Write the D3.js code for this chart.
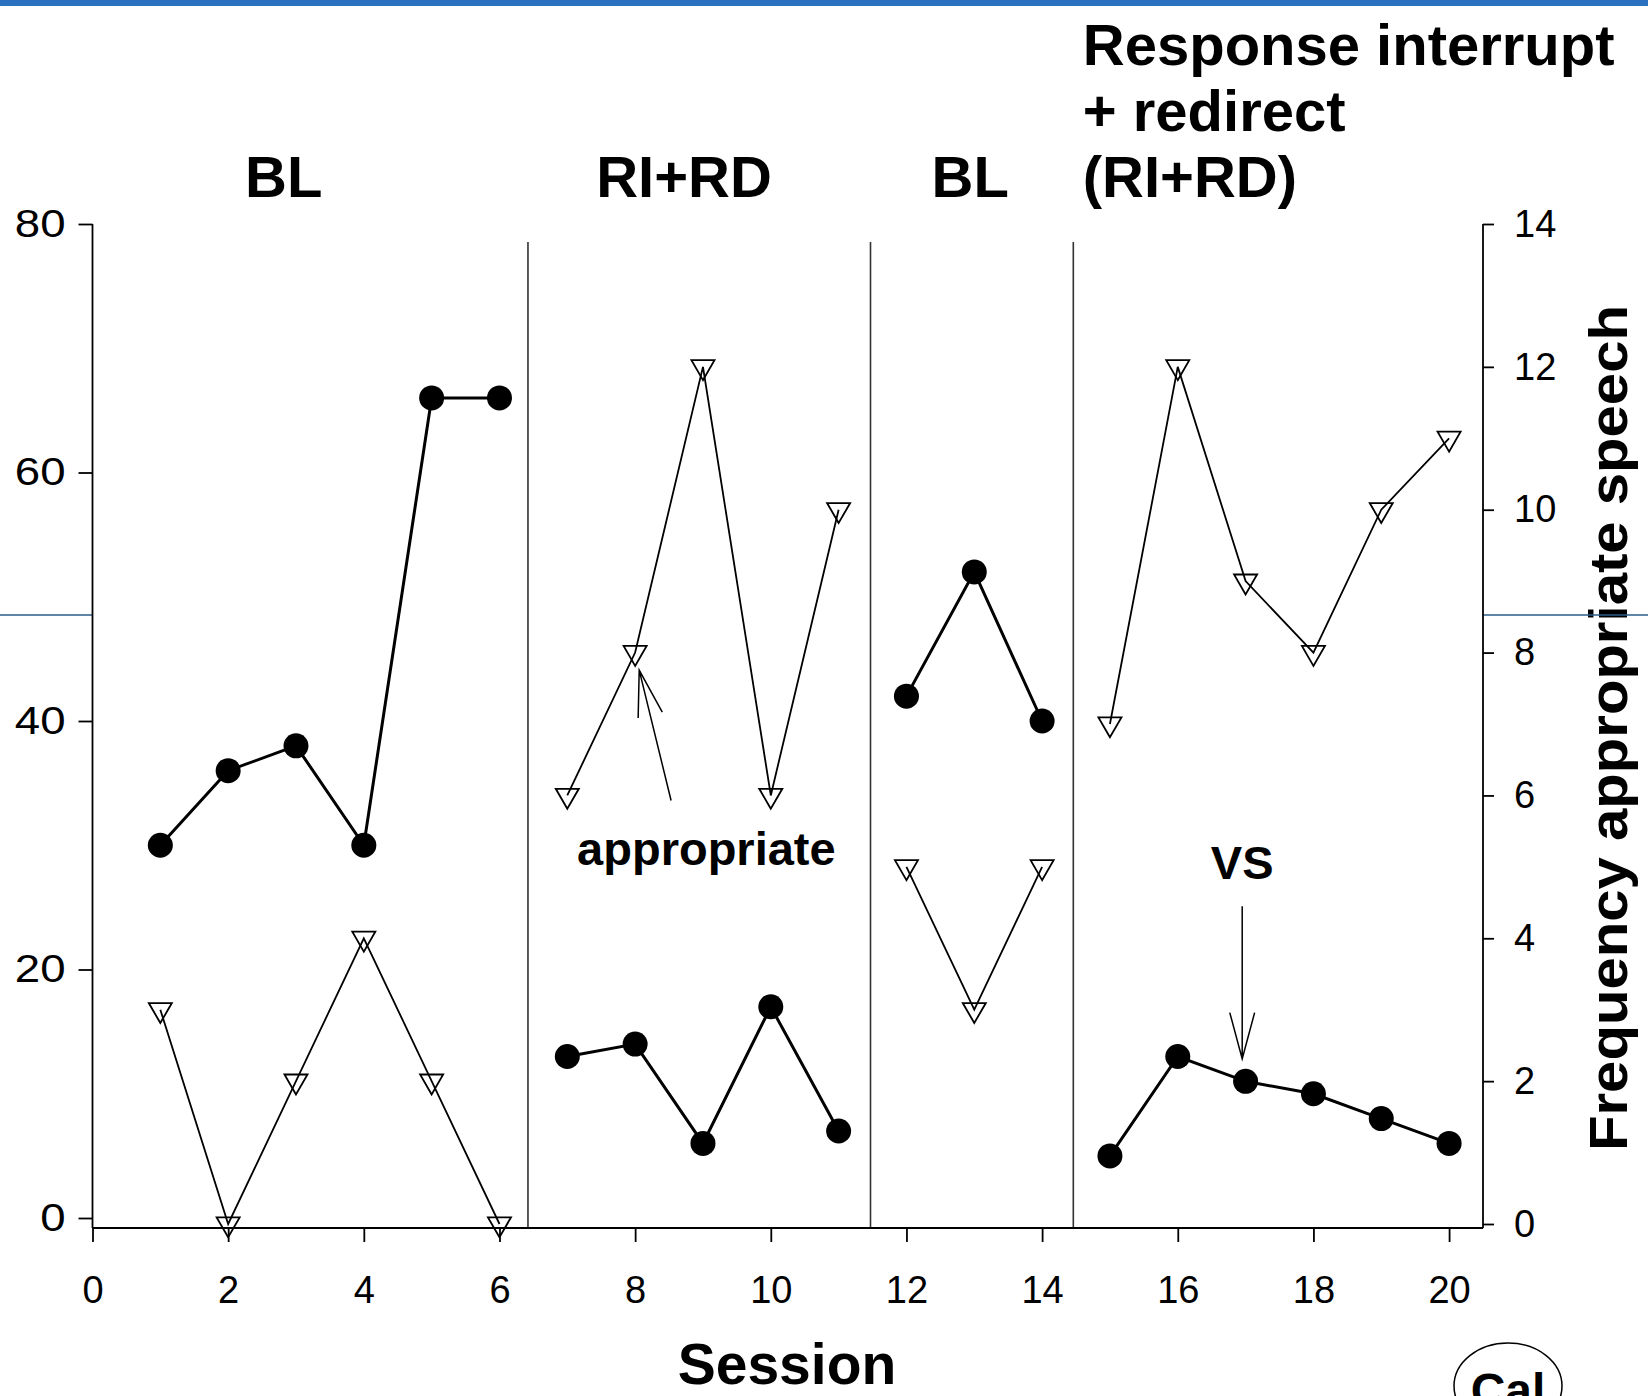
<!DOCTYPE html>
<html>
<head>
<meta charset="utf-8">
<script src="https://cdn.jsdelivr.net/npm/d3@7"></script>
<style>
  body { margin: 0; background: #fff; }
  svg { display: block; font-family: "Liberation Sans", Arial, sans-serif; }
</style>
</head>
<body>
<script>
// session numbers and the two measures
var sessions = d3.range(1, 21);
var percentValues = [30, 36, 38, 30, 66, 66, 13, 14, 6, 17, 7, 42, 52, 40, 5, 13, 11, 10, 8, 6];
var freqValues = [3, 0, 2, 4, 2, 0, 6, 8, 12, 6, 10, 5, 3, 5, 7, 12, 9, 8, 10, 11];

// phases: first and last session of each
var phaseStart = [1, 7, 12, 15];
var phaseEnd = [6, 11, 14, 20];
var phaseLines = [6.42, 11.47, 14.46];
var phaseNames = ["BL", "RI+RD", "BL"];
var phaseNameX = [2.82, 8.72, 12.94];
var lastPhaseLines = ["Response interrupt", "+ redirect", "(RI+RD)"];

var xTicks = d3.range(0, 21, 2);
var leftTicks = [0, 20, 40, 60, 80];
var rightTicks = d3.range(0, 15, 2);

var width = 1648;
var height = 1396;

var svg = d3.select("body")
	.append("svg")
	.attr("width", width)
	.attr("height", height);

var x = d3.scaleLinear().domain([0, 20.5]).range([92.5, 1483]);
var yLeft = d3.scaleLinear().domain([0, 80]).range([1218, 224]);
var yRight = d3.scaleLinear().domain([0, 14]).range([1224, 224]);
var axisY = 1228;

// top bar of the slide
svg.append("rect")
	.attr("x", 0).attr("y", 0)
	.attr("width", width).attr("height", 6)
	.attr("fill", "#2a72c0");

// phase titles
svg.selectAll("text.phase")
	.data(phaseNames)
	.enter()
	.append("text")
	.attr("class", "phase")
	.attr("x", function(d, i) { return x(phaseNameX[i]); })
	.attr("y", 197)
	.attr("text-anchor", "middle")
	.attr("font-size", 58)
	.attr("font-weight", "bold")
	.text(function(d) { return d; });

svg.selectAll("text.lastphase")
	.data(lastPhaseLines)
	.enter()
	.append("text")
	.attr("class", "lastphase")
	.attr("x", x(14.6))
	.attr("y", function(d, i) { return 65 + i * 66; })
	.attr("font-size", 58)
	.attr("font-weight", "bold")
	.text(function(d) { return d; });

// right axis title
svg.append("text")
	.attr("transform", "translate(1627," + 728 + ") rotate(-90)")
	.attr("text-anchor", "middle")
	.attr("font-size", 54)
	.attr("font-weight", "bold")
	.attr("textLength", 846)
	.attr("lengthAdjust", "spacingAndGlyphs")
	.text("Frequency appropriate speech");

// slide rule, hidden behind the plot
svg.append("line")
	.attr("x1", 0).attr("x2", x.range()[0])
	.attr("y1", 615).attr("y2", 615)
	.attr("stroke", "#2b5d8c").attr("stroke-width", 1.5);
svg.append("line")
	.attr("x1", x.range()[1]).attr("x2", width)
	.attr("y1", 615).attr("y2", 615)
	.attr("stroke", "#2b5d8c").attr("stroke-width", 1.5);

// phase change lines
svg.selectAll("line.phaseline")
	.data(phaseLines)
	.enter()
	.append("line")
	.attr("class", "phaseline")
	.attr("x1", function(d) { return x(d); })
	.attr("x2", function(d) { return x(d); })
	.attr("y1", 242)
	.attr("y2", axisY)
	.attr("stroke", "#333")
	.attr("stroke-width", 1.6);

// axes
var leftAxis = svg.append("g")
	.attr("transform", "translate(" + x.range()[0] + ",0)")
	.call(d3.axisLeft(yLeft).tickValues(leftTicks).tickSize(14).tickPadding(13).tickSizeOuter(0));

var rightAxis = svg.append("g")
	.attr("transform", "translate(" + x.range()[1] + ",0)")
	.call(d3.axisRight(yRight).tickValues(rightTicks).tickSize(11).tickPadding(20).tickSizeOuter(0));

var bottomAxis = svg.append("g")
	.attr("transform", "translate(0," + axisY + ")")
	.call(d3.axisBottom(x).tickValues(xTicks).tickSize(14).tickPadding(34).tickSizeOuter(0));

[leftAxis, rightAxis, bottomAxis].forEach(function(g) {
	g.select(".domain").remove();
	g.selectAll("line").attr("stroke", "#000").attr("stroke-width", 1.8);
	g.selectAll("text")
		.attr("font-size", 38)
		.attr("font-family", "\"Liberation Sans\", Arial, sans-serif")
		.attr("fill", "#000");
});

// left labels are drawn a little wider in the original
leftAxis.selectAll("text")
	.attr("x", -27 / 1.2)
	.attr("transform", "scale(1.2,1)");

svg.append("line")
	.attr("x1", x.range()[0]).attr("x2", x.range()[0])
	.attr("y1", 224).attr("y2", axisY)
	.attr("stroke", "#000").attr("stroke-width", 1.8);
svg.append("line")
	.attr("x1", x.range()[1]).attr("x2", x.range()[1])
	.attr("y1", 224).attr("y2", axisY)
	.attr("stroke", "#000").attr("stroke-width", 1.8);
svg.append("line")
	.attr("x1", x.range()[0]).attr("x2", x.range()[1])
	.attr("y1", axisY).attr("y2", axisY)
	.attr("stroke", "#000").attr("stroke-width", 1.8);

// one group of points per phase
var groups = phaseStart.map(function(s, i) {
	return sessions.filter(function(d) { return d >= s && d <= phaseEnd[i]; });
});

var freqLine = d3.line()
	.x(function(d) { return x(d); })
	.y(function(d) { return yRight(freqValues[d - 1]); });

var pctLine = d3.line()
	.x(function(d) { return x(d); })
	.y(function(d) { return yLeft(percentValues[d - 1]); });

svg.selectAll("path.freq")
	.data(groups)
	.enter()
	.append("path")
	.attr("class", "freq")
	.attr("d", freqLine)
	.attr("fill", "none")
	.attr("stroke", "#000")
	.attr("stroke-width", 1.8);

svg.selectAll("path.tri")
	.data(sessions)
	.enter()
	.append("path")
	.attr("class", "tri")
	.attr("d", d3.symbol().type(d3.symbolTriangle).size(230))
	.attr("transform", function(d) {
		return "translate(" + x(d) + "," + yRight(freqValues[d - 1]) + ") rotate(180)";
	})
	.attr("fill", "none")
	.attr("stroke", "#000")
	.attr("stroke-width", 1.8);

svg.selectAll("path.pct")
	.data(groups)
	.enter()
	.append("path")
	.attr("class", "pct")
	.attr("d", pctLine)
	.attr("fill", "none")
	.attr("stroke", "#000")
	.attr("stroke-width", 3);

svg.selectAll("circle")
	.data(sessions)
	.enter()
	.append("circle")
	.attr("r", 12.5)
	.attr("cx", function(d) { return x(d); })
	.attr("cy", function(d) { return yLeft(percentValues[d - 1]); })
	.attr("fill", "#000");

// annotation arrows, in session / left-axis units
var arrowTails = [[8.53, 33.6], [16.95, 25.1]];
var arrowTips = [[8.06, 44.1], [16.95, 12.8]];

arrowTips.forEach(function(tip, i) {
	var tail = arrowTails[i];
	var x1 = x(tail[0]), y1 = yLeft(tail[1]);
	var x2 = x(tip[0]), y2 = yLeft(tip[1]);
	var ang = Math.atan2(y1 - y2, x1 - x2);
	var len = 48, spread = 15 * Math.PI / 180;
	var path = d3.path();
	path.moveTo(x1, y1);
	path.lineTo(x2, y2);
	path.moveTo(x2 + len * Math.cos(ang - spread), y2 + len * Math.sin(ang - spread));
	path.lineTo(x2, y2);
	path.lineTo(x2 + len * Math.cos(ang + spread), y2 + len * Math.sin(ang + spread));
	svg.append("path")
		.attr("d", path.toString())
		.attr("fill", "none")
		.attr("stroke", "#000")
		.attr("stroke-width", 1.5);
});

svg.append("text")
	.attr("x", x(9.05)).attr("y", yLeft(28.4))
	.attr("text-anchor", "middle")
	.attr("font-size", 47).attr("font-weight", "bold")
	.text("appropriate");

svg.append("text")
	.attr("x", x(16.95)).attr("y", yLeft(27.3))
	.attr("text-anchor", "middle")
	.attr("font-size", 47).attr("font-weight", "bold")
	.text("VS");

// x axis title
svg.append("text")
	.attr("x", 787).attr("y", 1384)
	.attr("text-anchor", "middle")
	.attr("font-size", 57).attr("font-weight", "bold")
	.text("Session");

// corner badge
svg.append("ellipse")
	.attr("cx", 1508).attr("cy", 1386)
	.attr("rx", 54).attr("ry", 43)
	.attr("fill", "none")
	.attr("stroke", "#000")
	.attr("stroke-width", 1.5);
svg.append("text")
	.attr("x", 1508).attr("y", 1407)
	.attr("text-anchor", "middle")
	.attr("font-size", 48).attr("font-weight", "bold")
	.text("Cal");
</script>
</body>
</html>
